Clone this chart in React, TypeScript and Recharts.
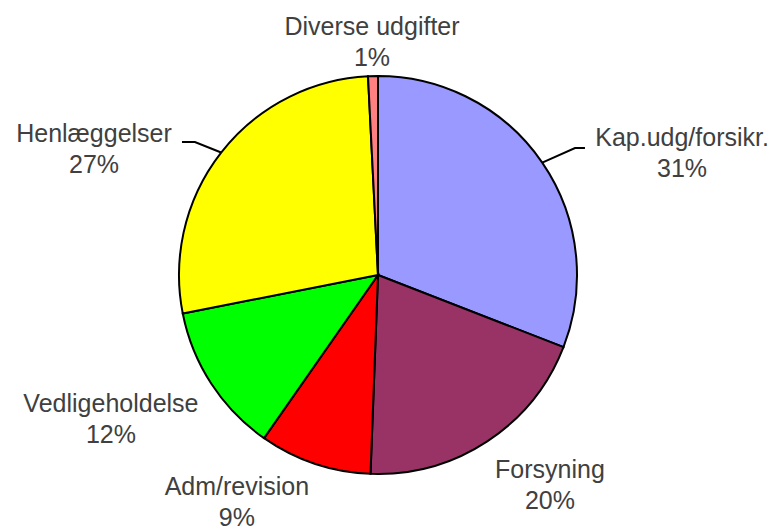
import React from 'react';
import { PieChart, Pie, Cell } from 'recharts';

const categories = [
  'Kap.udg/forsikr.',
  'Forsyning',
  'Adm/revision',
  'Vedligeholdelse',
  'Henlæggelser',
  'Diverse udgifter',
];
const shares = [30.9, 19.7, 9.1, 12.2, 27.3, 0.8];
const colors = ['#9999FF', '#993366', '#FF0000', '#00FF00', '#FFFF00', '#FF8080'];

// label placement, in units of the pie radius, relative to the centre (first baseline)
const labelSpots = [
  { dx: 1.528, dy: -0.648 },
  { dx: 0.864, dy: 1.02 },
  { dx: -0.709, dy: 1.106 },
  { dx: -1.342, dy: 0.688 },
  { dx: -1.427, dy: -0.668 },
  { dx: -0.03, dy: -1.206 },
];
// leader lines: elbow and end, same units
const leaders: Record<number, { ex: number; ey: number; tx: number }> = {
  0: { ex: 0.99, ey: -0.638, tx: 1.04 },
  4: { ex: -0.92, ey: -0.668, tx: -0.985 },
};

const data = categories.map((name, i) => ({ name, value: shares[i] }));

const TEXT = '#404040';
const RADIAN = Math.PI / 180;

function renderLabel(props: any) {
  const { cx, cy, outerRadius, index, percent, midAngle } = props;
  const r = outerRadius;
  const spot = labelSpots[index];
  const x = cx + spot.dx * r;
  const y = cy + spot.dy * r;
  const lead = leaders[index];
  let line = null;
  if (lead) {
    const sx = cx + r * Math.cos(-midAngle * RADIAN);
    const sy = cy + r * Math.sin(-midAngle * RADIAN);
    const ex = cx + lead.ex * r;
    const ey = cy + lead.ey * r;
    const tx = cx + lead.tx * r;
    line = (
      <polyline
        points={`${sx},${sy} ${ex},${ey} ${tx},${ey}`}
        fill="none"
        stroke="#000"
        strokeWidth={2}
      />
    );
  }
  return (
    <g key={`lbl-${index}`}>
      {line}
      <text
        x={x}
        y={y}
        textAnchor="middle"
        fill={TEXT}
        fontSize={25}
        fontFamily="'Liberation Sans', Arial, sans-serif"
      >
        <tspan x={x} dy={0}>{categories[index]}</tspan>
        <tspan x={x} dy={31}>{`${Math.round(percent * 100)}%`}</tspan>
      </text>
    </g>
  );
}

export default function App() {
  return (
    <div style={{ position: 'absolute', left: 0, top: 0, width: 778, height: 526, background: '#fff' }}>
      <PieChart width={778} height={526} margin={{ top: 0, right: 0, bottom: 0, left: 0 }}>
        <Pie
          data={data}
          dataKey="value"
          nameKey="name"
          cx={378}
          cy={275}
          outerRadius={199}
          startAngle={90}
          endAngle={-270}
          stroke="#000"
          strokeWidth={2}
          label={renderLabel}
          labelLine={false}
          isAnimationActive={false}
        >
          {data.map((d, i) => (
            <Cell key={d.name} fill={colors[i]} />
          ))}
        </Pie>
      </PieChart>
    </div>
  );
}
